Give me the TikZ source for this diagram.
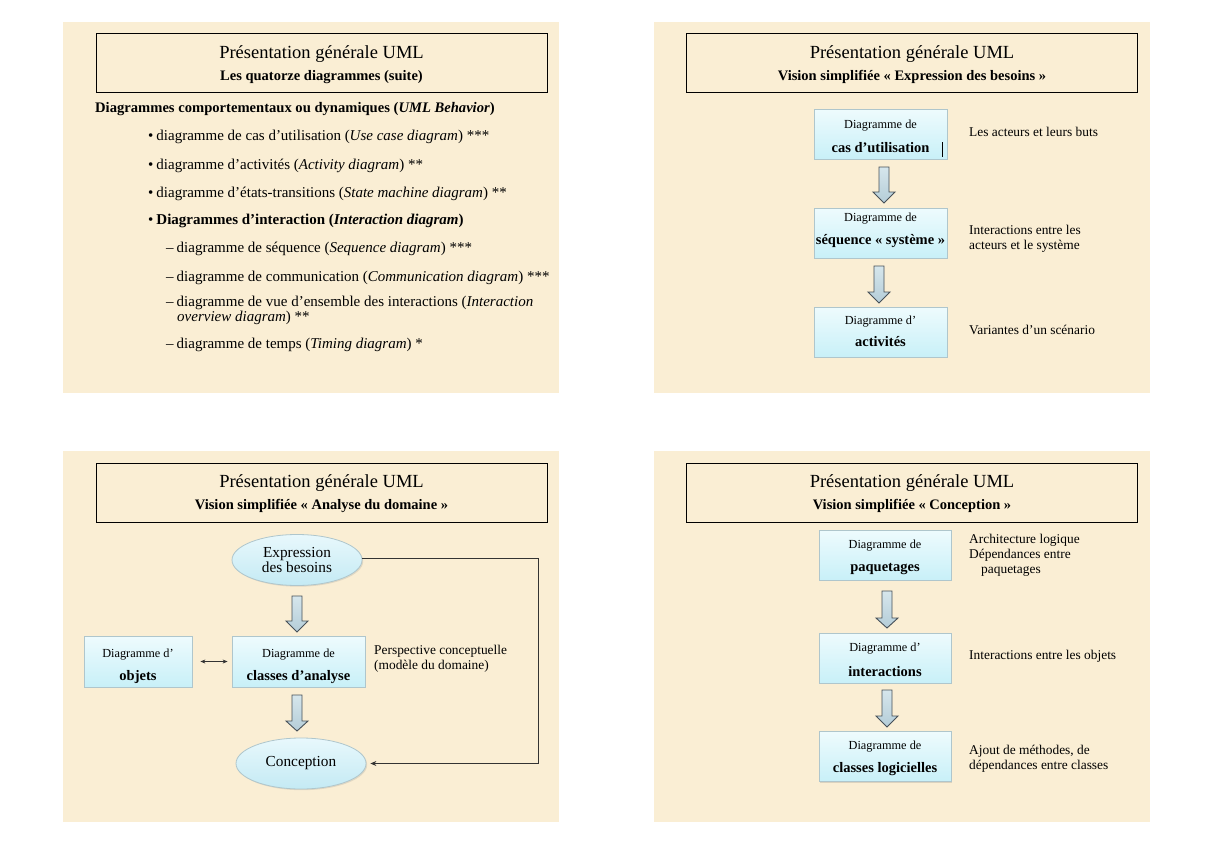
\documentclass[tikz,border=0pt]{standalone}
\usepackage{fontspec}
\setmainfont{Liberation Serif}
\usetikzlibrary{arrows.meta,shadows,shapes.geometric}
\definecolor{parch}{RGB}{250,238,212}
\definecolor{boxtop}{RGB}{238,251,253}
\definecolor{boxbot}{RGB}{200,240,248}
\definecolor{boxedge}{RGB}{175,198,204}
\definecolor{arrtop}{RGB}{214,230,236}
\definecolor{arrbot}{RGB}{180,205,216}
\definecolor{arredge}{RGB}{70,80,88}
\definecolor{elltop}{RGB}{232,248,252}
\definecolor{ellbot}{RGB}{196,234,244}
\tikzset{
  slide/.style={fill=parch, draw=none},
  titlebox/.style={draw=black, line width=1pt, minimum width=451pt, minimum height=59pt, inner sep=0pt},
  tone/.style={inner sep=0pt, font=\fontsize{18.5}{22}\selectfont},
  ttwo/.style={inner sep=0pt, font=\fontsize{14.5}{17}\selectfont\bfseries},
  lbl/.style={anchor=west, inner sep=0pt, font=\fontsize{13.4}{15}\selectfont, align=left},
  body/.style={anchor=west, inner sep=0pt, font=\fontsize{15}{16}\selectfont},
  diag/.style={draw=boxedge, line width=0.8pt, top color=boxtop, bottom color=boxbot,
    drop shadow={opacity=0.25, shadow xshift=1.2pt, shadow yshift=-1.2pt}},
  smalltxt/.style={inner sep=0pt, font=\fontsize{12.3}{14}\selectfont},
  bigtxt/.style={inner sep=0pt, font=\fontsize{14.5}{17}\selectfont\bfseries},
  bubble/.style={ellipse, draw=boxedge, line width=0.8pt, top color=elltop, bottom color=ellbot,
    font=\fontsize{15.3}{15}\selectfont, align=center, inner sep=0pt,
    minimum width=130pt, minimum height=51pt,
    drop shadow={opacity=0.2, shadow xshift=1.2pt, shadow yshift=-1.2pt}},
  barrow/.style={draw=arredge, line width=0.9pt, top color=arrtop, bottom color=arrbot},
  thin/.style={draw=black!80, line width=0.7pt},
}
\newcommand{\blockarrow}[4]{%
  \draw[barrow] (#1-5,#2) -- (#1+5,#2) -- (#1+5,#3) -- (#1+11,#3) -- (#1,#4)
    -- (#1-11,#3) -- (#1-5,#3) -- cycle;}
\begin{document}
\begin{tikzpicture}[x=1pt,y=-1pt]
\useasboundingbox (0,0) rectangle (1219,867);
\fill[white] (0,0) rectangle (1219,867);
% slides
\fill[slide] (63,22) rectangle (559,393);
\fill[slide] (654,22) rectangle (1150,393);
\fill[slide] (63,451) rectangle (559,822);
\fill[slide] (654,451) rectangle (1150,822);

% ---------- slide 1 (top left)
\node[titlebox] (tA) at (321.5,63.5) {};
\node[tone] (tA1) at (321.5,54) {Présentation générale UML};
\node[ttwo] (tA2) at (321.5,77) {Les quatorze diagrammes (suite)};
\node[body, font=\fontsize{14.6}{17}\selectfont\bfseries] (h1) at (95,109)
  {Diagrammes comportementaux ou dynamiques (\textit{UML Behavior})};
\node[body] (bu1) at (148,137) {•\hspace{3pt}diagramme de cas d'utilisation (\textit{Use case diagram}) ***};
\node[body] (bu2) at (148,166) {•\hspace{3pt}diagramme d'activités (\textit{Activity diagram}) **};
\node[body] (bu3) at (148,194) {•\hspace{3pt}diagramme d'états-transitions (\textit{State machine diagram}) **};
\node[body] (bu4) at (148,221) {•\hspace{3pt}\textbf{Diagrammes d'interaction (\textit{Interaction diagram})}};
\node[body] (da1) at (166,249) {–\hspace{3pt}diagramme de séquence (\textit{Sequence diagram}) ***};
\node[body] (da2) at (166,278) {–\hspace{3pt}diagramme de communication (\textit{Communication diagram}) ***};
\node[body] (da3) at (166,303) {–\hspace{3pt}diagramme de vue d’ensemble des interactions (\textit{Interaction}};
\node[body] (da3b) at (177,318) {\textit{overview diagram}) **};
\node[body] (da4) at (166,345) {–\hspace{3pt}diagramme de temps (\textit{Timing diagram}) *};

% ---------- slide 2 (top right)
\node[titlebox] (tB) at (912,63.5) {};
\node[tone] (tB1) at (912,54) {Présentation générale UML};
\node[ttwo] (tB2) at (912,77) {Vision simplifiée «~Expression des besoins~»};
\node[diag, minimum width=133pt, minimum height=50pt] (c1) at (880.5,134) {};
\node[smalltxt] (c1a) at (880.5,126) {Diagramme de};
\node[bigtxt] (c1b) at (880.5,148) {cas d’utilisation};
\draw[black, line width=0.8pt] (942,142) -- (942,157);
\node[diag, minimum width=133pt, minimum height=50pt] (c2) at (880.5,233) {};
\node[smalltxt] (c2a) at (880.5,219) {Diagramme de};
\node[bigtxt] (c2b) at (880.5,241) {séquence «~système~»};
\node[diag, minimum width=133pt, minimum height=50pt] (c3) at (880.5,332) {};
\node[smalltxt] (c3a) at (880.5,322) {Diagramme d’};
\node[bigtxt] (c3b) at (880.5,342) {activités};
\blockarrow{884}{167}{192}{203}
\blockarrow{879}{266}{292}{303}
\node[lbl] (l1) at (969,132) {Les acteurs et leurs buts};
\node[lbl] (l2) at (969,238.5) {Interactions entre les\\acteurs et le système};
\node[lbl] (l3) at (969,330) {Variantes d’un scénario};

% ---------- slide 3 (bottom left)
\node[titlebox] (tC) at (321.5,492.5) {};
\node[tone] (tC1) at (321.5,483) {Présentation générale UML};
\node[ttwo] (tC2) at (321.5,506) {Vision simplifiée «~Analyse du domaine~»};
\node[bubble] (e1) at (297,560) {Expression\\des besoins};
\node[bubble] (e2) at (301,763.5) {Conception};
\node[diag, minimum width=133pt, minimum height=51pt] (cls) at (298.5,661.5) {};
\node[smalltxt] (clsa) at (298.5,655) {Diagramme de};
\node[bigtxt] (clsb) at (298.5,677) {classes d’analyse};
\node[diag, minimum width=108pt, minimum height=51pt] (obj) at (138,661.5) {};
\node[smalltxt] (obja) at (138,655) {Diagramme d’};
\node[bigtxt] (objb) at (138,677) {objets};
\draw[thin, {Stealth[length=5pt,width=4pt]}-{Stealth[length=5pt,width=4pt]}, shorten <=8pt, shorten >=4pt] (obj.east) -- (cls.west);
\blockarrow{297}{596}{621}{632}
\blockarrow{297}{695}{721}{731}
\draw[thin, -{Stealth[length=6pt,width=5pt]}, shorten >=4pt] (e1.east |- 0,558) -- (538,558) |- (e2.east);
\node[lbl] (l4) at (374,659) {Perspective conceptuelle\\(modèle du domaine)};

% ---------- slide 4 (bottom right)
\node[titlebox] (tD) at (912,492.5) {};
\node[tone] (tD1) at (912,483) {Présentation générale UML};
\node[ttwo] (tD2) at (912,506) {Vision simplifiée «~Conception~»};
\node[diag, minimum width=132pt, minimum height=50pt] (p1) at (885,555) {};
\node[smalltxt] (p1a) at (885,546) {Diagramme de};
\node[bigtxt] (p1b) at (885,569) {paquetages};
\node[diag, minimum width=132pt, minimum height=50pt] (p2) at (885,658) {};
\node[smalltxt] (p2a) at (885,649) {Diagramme d’};
\node[bigtxt] (p2b) at (885,672) {interactions};
\node[diag, minimum width=132pt, minimum height=50pt] (p3) at (885,756.5) {};
\node[smalltxt] (p3a) at (885,747) {Diagramme de};
\node[bigtxt] (p3b) at (885,769) {classes logicielles};
\blockarrow{887}{591}{618}{628}
\blockarrow{887}{690}{716}{727}
\node[lbl] (l5) at (969,555.5) {Architecture logique\\Dépendances entre\\\hspace*{12pt}paquetages};
\node[lbl] (l6) at (969,656) {Interactions entre les objets};
\node[lbl] (l7) at (969,758.5) {Ajout de méthodes, de\\dépendances entre classes};
\end{tikzpicture}
\end{document}
